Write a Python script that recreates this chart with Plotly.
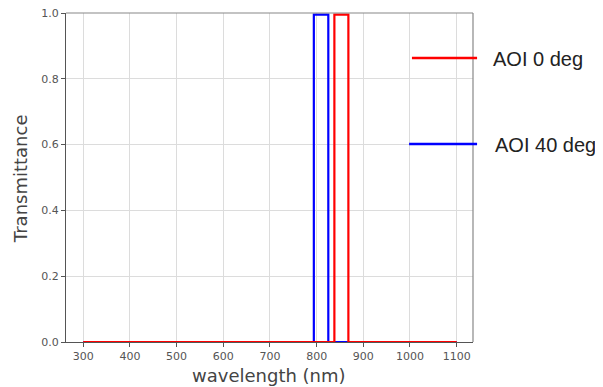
import plotly.graph_objects as go

# Data
wl_aoi0 = [300, 838, 838, 868, 868, 1100]
t_aoi0 = [0, 0, 0.995, 0.995, 0, 0]
wl_aoi40 = [300, 794, 794, 825, 825, 1100]
t_aoi40 = [0, 0, 0.995, 0.995, 0, 0]
x_ticks = [300, 400, 500, 600, 700, 800, 900, 1000, 1100]
y_ticks = [0.0, 0.2, 0.4, 0.6, 0.8, 1.0]
legend_labels = ["AOI 0 deg", "AOI 40 deg"]

fig = go.Figure()
fig.add_trace(go.Scatter(x=wl_aoi40, y=t_aoi40, mode="lines",
                         line=dict(color="#0000ff", width=2.2), name=legend_labels[1]))
fig.add_trace(go.Scatter(x=wl_aoi0, y=t_aoi0, mode="lines",
                         line=dict(color="#ff0000", width=2.2), name=legend_labels[0]))

tickfont = dict(family="DejaVu Sans", size=11, color="#555555")
fig.update_xaxes(range=[263, 1135], tickvals=x_ticks, ticktext=[str(v) for v in x_ticks],
                 showgrid=True, gridcolor="#dcdcdc", gridwidth=1,
                 showline=True, linecolor="#555555", linewidth=1.2,
                 ticks="outside", ticklen=4, tickcolor="#555555", tickfont=tickfont,
                 zeroline=False, automargin=False, ticklabeloverflow="allow")
fig.update_yaxes(range=[0, 1.0], tickvals=y_ticks, ticktext=[f"{v:.1f}" for v in y_ticks],
                 showgrid=True, gridcolor="#dcdcdc", gridwidth=1,
                 showline=True, linecolor="#555555", linewidth=1.2,
                 ticks="outside", ticklen=4, tickcolor="#555555", tickfont=tickfont,
                 zeroline=False, automargin=False, ticklabeloverflow="allow")

# axis titles
title_font = dict(family="DejaVu Sans", size=18, color="#444444")
fig.add_annotation(xref="paper", yref="paper", x=0.498, y=-0.103, text="wavelength (nm)",
                   showarrow=False, xanchor="center", yanchor="middle", font=title_font)
fig.add_annotation(xref="paper", yref="paper", x=-0.113, y=0.495, text="Transmittance",
                   showarrow=False, xanchor="center", yanchor="middle", textangle=-90, font=title_font)

# top / right spines (lighter)
fig.add_shape(type="line", xref="paper", yref="paper", x0=0, x1=1, y0=1, y1=1,
              line=dict(color="#888888", width=1.2))
fig.add_shape(type="line", xref="paper", yref="paper", x0=1, x1=1, y0=0, y1=1,
              line=dict(color="#888888", width=1.2))

# custom legend
legend_colors = ["#ff0000", "#0000ff"]
legend_y = [0.863, 0.602]
legend_x0 = [0.850, 0.843]
legend_tx = [1.043, 1.048]
for lab, col, yy, x0, tx in zip(legend_labels, legend_colors, legend_y, legend_x0, legend_tx):
    fig.add_shape(type="line", xref="paper", yref="paper", x0=x0, x1=1.01, y0=yy, y1=yy,
                  line=dict(color=col, width=2.5))
    fig.add_annotation(xref="paper", yref="paper", x=tx, y=yy - 0.004, text=lab, showarrow=False,
                       xanchor="left", yanchor="middle",
                       font=dict(family="Liberation Sans", size=20, color="#222222"))

# page body has an 8px margin: shrink figure so the visible frame matches 603x387
fig.update_layout(width=595, height=379, margin=dict(l=58, r=130, t=5, b=45),
                  plot_bgcolor="white", paper_bgcolor="white", showlegend=False)

fig.write_html("out.html")
